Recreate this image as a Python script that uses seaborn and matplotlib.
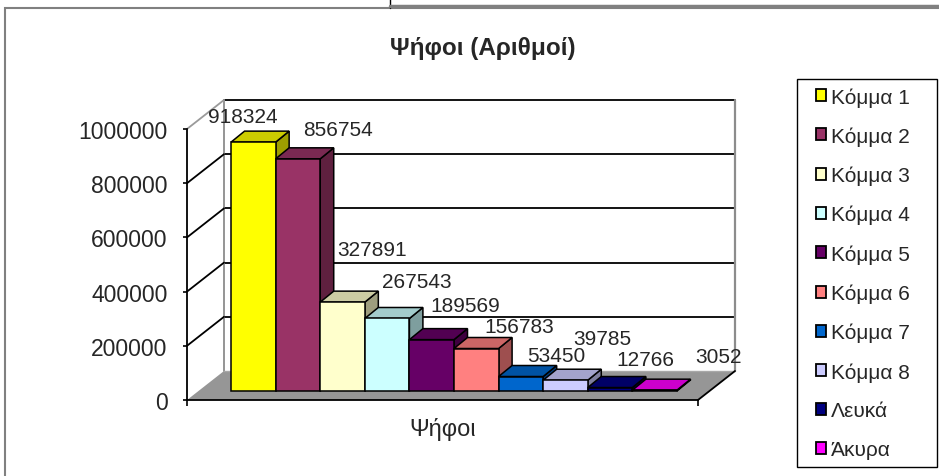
import numpy as np
import pandas as pd
import matplotlib
matplotlib.use("Agg")
import matplotlib.pyplot as plt
import seaborn as sns
from matplotlib.patches import Polygon, Rectangle, Patch
from matplotlib.lines import Line2D

# ---------------- data ----------------
title = "Ψήφοι (Αριθμοί)"
category = "Ψήφοι"
parties = ["Κόμμα 1", "Κόμμα 2", "Κόμμα 3", "Κόμμα 4", "Κόμμα 5",
           "Κόμμα 6", "Κόμμα 7", "Κόμμα 8", "Λευκά", "Άκυρα"]
votes = [918324, 856754, 327891, 267543, 189569, 156783, 53450, 39785, 12766, 3052]
yticks = [0, 200000, 400000, 600000, 800000, 1000000]

# ---------------- style ----------------
colors = ["#FFFF00", "#993366", "#FFFFCC", "#CCFFFF", "#660066",
          "#FF8080", "#0066CC", "#CCCCFF", "#000080", "#FF00FF"]
# label offsets (pixels) from each bar's top-front centre, mimicking Excel placement
label_offsets = [(-11, 26), (40, 29), (30, 53), (30, 37), (34, 34),
                 (43, 22), (35, 21), (37, 42), (35, 28), (64, 34)]

sns.set_style("white")
plt.rcParams["font.family"] = ["Liberation Sans", "DejaVu Sans"]

W, H = 939, 477
fig = plt.figure(figsize=(W / 100, H / 100), dpi=100)
fig.patch.set_facecolor("white")


def fx(px):
    return px / W


def fy(py):
    return 1 - py / H


# front plane axes
ax = fig.add_axes([fx(187), fy(401), fx(698) - fx(187), fy(130) - fy(401)])
ax.set_facecolor("none")

df = pd.DataFrame({"cat": [category] * len(parties), "party": parties, "votes": votes})
sns.barplot(data=df, x="cat", y="votes", hue="party", hue_order=parties,
            palette=colors, width=1.0, gap=0, dodge=True, saturation=1,
            edgecolor="black", linewidth=1.1, legend=False, ax=ax)

XL, XR = -0.573, 0.573
ax.set_xlim(XL, XR)
ax.set_ylim(0, 1e6)
ax.set_xlabel("")
ax.set_ylabel("")
ax.grid(False)


def px2data(dx, dy):
    p0 = ax.transData.transform((0.0, 0.0))
    p1 = ax.transData.inverted().transform(p0 + np.array([dx, dy]))
    return p1[0], p1[1]


Wx, Wy = px2data(37, 29)     # back wall depth
Bx, By = px2data(11.5, 9)    # bar front plane depth
Dx, Dy = px2data(13.5, 11)   # bar thickness

ymax = yticks[-1]
# back wall
ax.add_patch(Rectangle((XL + Wx, Wy), (XR - XL), ymax, facecolor="white",
                       edgecolor="none", zorder=0.5, clip_on=False))
for v in yticks[1:]:
    ax.add_line(Line2D([XL + Wx, XR + Wx], [v + Wy, v + Wy], color="black",
                       lw=1.3, zorder=0.7, clip_on=False))
ax.add_line(Line2D([XL + Wx, XL + Wx], [Wy, ymax + Wy], color="#8c8c8c", lw=1.3,
                   zorder=0.8, clip_on=False))
ax.add_line(Line2D([XR + Wx, XR + Wx], [Wy, ymax + Wy], color="#8c8c8c", lw=1.6,
                   zorder=0.8, clip_on=False))
# left wall
ax.add_patch(Polygon([(XL, 0), (XL + Wx, Wy), (XL + Wx, ymax + Wy), (XL, ymax)],
                     closed=True, facecolor="white", edgecolor="none",
                     zorder=0.6, clip_on=False))
for v in yticks[1:]:
    col = "#9a9a9a" if v == ymax else "black"
    ax.add_line(Line2D([XL, XL + Wx], [v, v + Wy], color=col, lw=1.3,
                       zorder=0.9, clip_on=False))
# floor
ax.add_patch(Polygon([(XL, 0), (XR, 0), (XR + Wx, Wy), (XL + Wx, Wy)], closed=True,
                     facecolor="#969696", edgecolor="none", zorder=1, clip_on=False))
ax.add_line(Line2D([XL + Wx, XR + Wx], [Wy, Wy], color="#a8a8a8", lw=1.0,
                   zorder=1.1, clip_on=False))
ax.add_line(Line2D([XR, XR + Wx], [0, Wy], color="black", lw=1.3,
                   zorder=1.2, clip_on=False))


def shade(c, f):
    r, g, b = matplotlib.colors.to_rgb(c)
    return (r * f, g * f, b * f)


bars = sorted([p for p in ax.patches if isinstance(p, Rectangle) and p.get_height() > 0
               and p.get_width() < 0.5], key=lambda p: p.get_x())
for i, (p, v, off) in enumerate(zip(bars, votes, label_offsets)):
    x0 = p.get_x() + Bx
    w = p.get_width()
    h = p.get_height()
    p.set_x(x0)
    p.set_y(By)
    p.set_zorder(10 + 3 * i + 2)
    p.set_clip_on(False)
    fc = p.get_facecolor()
    top = Polygon([(x0, By + h), (x0 + w, By + h), (x0 + w + Dx, By + h + Dy),
                   (x0 + Dx, By + h + Dy)], closed=True, facecolor=shade(fc, 0.8),
                  edgecolor="black", lw=1.1, zorder=10 + 3 * i + 1, clip_on=False)
    side = Polygon([(x0 + w, By), (x0 + w + Dx, By + Dy), (x0 + w + Dx, By + h + Dy),
                    (x0 + w, By + h)], closed=True, facecolor=shade(fc, 0.62),
                   edgecolor="black", lw=1.1, zorder=10 + 3 * i, clip_on=False)
    ax.add_patch(side)
    ax.add_patch(top)
    ax.annotate(f"{v}", xy=(x0 + w / 2, By + h), xytext=off, textcoords="offset pixels",
                ha="center", va="center", fontsize=15, zorder=60,
                annotation_clip=False)

# axes / ticks
for s in ("top", "right"):
    ax.spines[s].set_visible(False)
for s in ("left", "bottom"):
    ax.spines[s].set_color("black")
    ax.spines[s].set_linewidth(1.3)
    ax.spines[s].set_zorder(5)
ax.set_yticks(yticks)
ax.set_yticklabels([f"{v:d}" for v in yticks])
ax.tick_params(axis="y", direction="out", length=3, width=1.2, color="black",
               labelsize=16.5, pad=11, left=True)
ax.set_xticks([0])
ax.set_xticklabels([category])
ax.tick_params(axis="x", which="major", length=0, labelsize=17, pad=12)
ax.set_xticks([XL, XR], minor=True)
ax.tick_params(axis="x", which="minor", direction="out", length=4.5, width=1.2,
               color="black", bottom=True)

# title
fig.text(fx(483), fy(48), title, ha="center", va="center", fontsize=17.5,
         fontweight="bold")

# legend
handles = [Patch(facecolor=c, edgecolor="black", linewidth=1.3) for c in colors]
fig.legend(handles, parties, loc="upper left", bbox_to_anchor=(fx(816), fy(88)),
           frameon=False, fontsize=15, handlelength=0.5, handleheight=0.5,
           handletextpad=0.2, labelspacing=0.95, borderpad=0, borderaxespad=0)
fig.add_artist(Rectangle((fx(797), fy(468)), fx(937) - fx(797), fy(80) - fy(468),
                         transform=fig.transFigure, fill=False, edgecolor="black",
                         lw=1.0))

# chart area frame and sheet artefacts
fig.add_artist(Rectangle((fx(5), fy(490)), fx(960) - fx(5), fy(9) - fy(490),
                         transform=fig.transFigure, fill=False, edgecolor="#808080",
                         lw=1.5))
fig.add_artist(Line2D([fx(390), fx(390)], [fy(0), fy(9)], transform=fig.transFigure,
                      color="black", lw=1.0))
fig.add_artist(Line2D([fx(390), fx(939)], [fy(7), fy(7)], transform=fig.transFigure,
                      color="#808080", lw=2.5))

fig.savefig("out.png", dpi=100)
